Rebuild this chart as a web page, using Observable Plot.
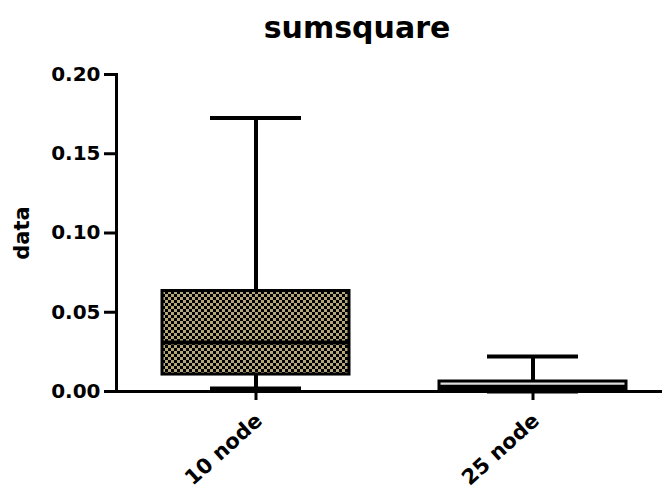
<!DOCTYPE html>
<html>
<head>
<meta charset="utf-8">
<script src="https://cdn.jsdelivr.net/npm/d3@7"></script>
<script src="https://cdn.jsdelivr.net/npm/@observablehq/plot@0.6"></script>
<style>
  html, body { margin: 0; padding: 0; background: #fff; }
  #wrap { position: relative; width: 662px; height: 489px; }
  #title { position: absolute; left: 0; top: 13px; width: 714px; text-align: center;
           font-family: "DejaVu Sans", sans-serif; font-weight: bold; font-size: 30px; line-height: 1; color: #000; }
</style>
</head>
<body>
<div id="wrap"><div id="title">sumsquare</div></div>
<script>
const categories = ["10 node", "25 node"];
const q1Values     = [0.0107, 0.0010];
const medianValues = [0.0309, 0.0030];
const q3Values     = [0.0634, 0.0063];
const minValues    = [0.0019, 0.0000];
const maxValues    = [0.1726, 0.0221];
const yTicks = [0, 0.05, 0.10, 0.15, 0.20];

const data = categories.map((c, i) => ({
  cat: c, q1: q1Values[i], median: medianValues[i], q3: q3Values[i], min: minValues[i], max: maxValues[i]
}));

const font = "DejaVu Sans";
const patternId = "checker";

function defs() {
  const d = d3.create("svg:defs");
  const p = d.append("pattern").attr("id", patternId).attr("patternUnits", "userSpaceOnUse")
    .attr("width", 6).attr("height", 6);
  p.append("rect").attr("width", 6).attr("height", 6).attr("fill", "#b4a679");
  p.append("rect").attr("width", 3).attr("height", 3).attr("fill", "#000");
  p.append("rect").attr("x", 3).attr("y", 3).attr("width", 3).attr("height", 3).attr("fill", "#000");
  return d.node();
}

const boxInset = 45;
const capInset = 93;

const chart = Plot.plot({
  width: 662,
  height: 489,
  marginLeft: 116,
  marginRight: 0,
  marginTop: 74,
  marginBottom: 98,
  style: { fontFamily: font, fontWeight: "bold", fontSize: "20px", color: "#000", background: "transparent", overflow: "visible" },
  x: { type: "band", domain: categories, range: [116, 671], padding: 0 },
  y: { domain: [0, 0.2] },
  marks: [
    defs,
    Plot.ruleX(data, { x: "cat", y1: "q3", y2: "max", stroke: "#000", strokeWidth: 4 }),
    Plot.ruleX(data, { x: "cat", y1: "min", y2: "q1", stroke: "#000", strokeWidth: 4 }),
    Plot.tickY(data, { x: "cat", y: "max", stroke: "#000", strokeWidth: 4, insetLeft: capInset, insetRight: capInset }),
    Plot.tickY(data, { x: "cat", y: "min", stroke: "#000", strokeWidth: 4, insetLeft: capInset, insetRight: capInset }),
    Plot.barY(data, {
      x: "cat", y1: "q1", y2: "q3",
      fill: d => d.cat === categories[0] ? `url(#${patternId})` : "#ddd",
      stroke: "#000", strokeWidth: 3, insetLeft: boxInset, insetRight: boxInset
    }),
    Plot.tickY(data, { x: "cat", y: "median", stroke: "#000", strokeWidth: 4, insetLeft: boxInset, insetRight: boxInset }),
    Plot.frame({ anchor: "left", stroke: "#000", strokeWidth: 3 }),
    Plot.frame({ anchor: "bottom", stroke: "#000", strokeWidth: 3 }),
    Plot.axisY({ ticks: yTicks, tickFormat: d3.format(".2f"), tickSize: 12, tickPadding: 4,
                 strokeWidth: 3, fontSize: 20, fontWeight: "bold", label: null }),
    Plot.axisX({ tickSize: 9, strokeWidth: 3, tickFormat: () => "", label: null }),
    Plot.axisX({ tickSize: 0, tickPadding: 26, tickRotate: -42, dx: 3,
                 fontSize: 21, fontWeight: "bold", label: null }),
    Plot.text(["data"], { frameAnchor: "left", textAnchor: "middle", dx: -94, rotate: -90, fontSize: 21, fontWeight: "bold" })
  ]
});

document.getElementById("wrap").appendChild(chart);
</script>
</body>
</html>
